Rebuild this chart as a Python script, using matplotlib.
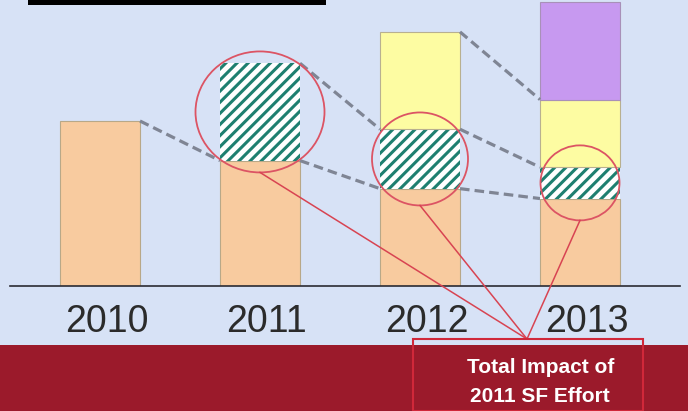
import matplotlib
matplotlib.use("Agg")
import matplotlib.pyplot as plt
from matplotlib.patches import Rectangle, Ellipse
from matplotlib.lines import Line2D
from matplotlib.transforms import ScaledTranslation

# ---- data ----
years = ["2010", "2011", "2012", "2013"]
base = [100, 76, 59, 53]          # existing baseline (peach)
sf2011 = [0, 59, 36, 19]          # 2011 SF effort (hatched)
sf2012 = [0, 0, 59, 41]           # 2012 effort (yellow)
sf2013 = [0, 0, 0, 59]            # 2013 effort (purple)
box_lines = ["Total Impact of", "2011 SF Effort"]

W, H = 688, 411
plt.rcParams["hatch.linewidth"] = 2.2
plt.rcParams["font.family"] = ["Liberation Sans", "DejaVu Sans"]

fig = plt.figure(figsize=(W / 100, H / 100), dpi=100)
fig.patch.set_facecolor("#d7e2f6")

# maroon band at bottom
fig.add_artist(Rectangle((0, 0), 1, 66 / H, transform=fig.transFigure,
                         facecolor="#9b1a2b", edgecolor="none", zorder=0))
# title underline (cut off title)
fig.add_artist(Line2D([30 / W, 323 / W], [1 - 2.5 / H] * 2, lw=3.6,
                      color="black", transform=fig.transFigure))

# main axes: bottom spine is the baseline
ax_left, ax_right, ax_bottom_px = 10, 680, 286
ax = fig.add_axes([ax_left / W, (H - ax_bottom_px) / H,
                   (ax_right - ax_left) / W, ax_bottom_px / H])
ax.set_facecolor("none")
px_per_x = 160.0
px_per_y = 1.65
x0_px = 100
ax.set_xlim((ax_left - x0_px) / px_per_x, (ax_right - x0_px) / px_per_x)
ax.set_ylim(0, ax_bottom_px / px_per_y)
for s in ["top", "left", "right"]:
    ax.spines[s].set_visible(False)
ax.spines["bottom"].set_color("#2b2b33")
ax.spines["bottom"].set_linewidth(1.2)
ax.set_yticks([])

x = list(range(len(years)))
ax.set_xticks(x, years)
ax.tick_params(axis="x", length=0, pad=13, labelsize=27, labelcolor="#2b2b2b")
for lab in ax.get_xticklabels():
    lab.set_transform(lab.get_transform() + ScaledTranslation(7 / 100, 0, fig.dpi_scale_trans))

bw = 0.5
series = [
    (base, dict(facecolor="#f8cb9f", edgecolor="#b8a888", linewidth=0.8)),
    (sf2011, dict(facecolor="white", edgecolor="#1e7f70", linewidth=0, hatch="///")),
    (sf2012, dict(facecolor="#fdfca2", edgecolor="#b8b090", linewidth=0.8)),
    (sf2013, dict(facecolor="#c799f0", edgecolor="#a890b8", linewidth=0.8)),
]
bottoms = [0] * len(years)
levels = []
for vals, style in series:
    idx = [i for i in x if vals[i] > 0]
    ax.bar([x[i] for i in idx], [vals[i] for i in idx],
           bottom=[bottoms[i] for i in idx], width=bw, zorder=2, **style)
    tops = [bottoms[i] + vals[i] for i in x]
    levels.append((vals, list(bottoms), tops))
    bottoms = tops

# dashed connectors between consecutive years
for vals, bots, tops in levels:
    for i in range(len(years) - 1):
        if vals[i] > 0 and vals[i + 1] > 0:
            ax.plot([x[i] + bw / 2, x[i + 1] - bw / 2], [tops[i], tops[i + 1]],
                    color="#7f8594", lw=2.3, dashes=(3, 1.6), zorder=3,
                    solid_capstyle="butt", dash_capstyle="butt")

# circles around hatched segments
circle_px = {1: (129, 121), 2: (96, 93), 3: (79, 75)}
vals, bots, tops = levels[1]
box_top = ((527 - x0_px) / px_per_x, (ax_bottom_px - 339) / px_per_y)
for i, (wpx, hpx) in circle_px.items():
    cy = bots[i] + vals[i] / 2
    ax.add_patch(Ellipse((x[i], cy), wpx / px_per_x, hpx / px_per_y,
                         facecolor="none", edgecolor="#dc5464", lw=1.3,
                         zorder=4, clip_on=False))
    ax.plot([x[i], box_top[0]], [cy - hpx / px_per_y / 2, box_top[1]],
            color="#d84452", lw=1.1, zorder=4, clip_on=False)

# callout box
fig.add_artist(Rectangle((413 / W, 0), 230 / W, (H - 339) / H,
                         transform=fig.transFigure, facecolor="none",
                         edgecolor="#d0283a", lw=1.5, zorder=5))
fig.text(541 / W, 1 - 367 / H, box_lines[0], color="white", fontsize=15,
         fontweight="bold", ha="center", va="center")
fig.text(540 / W, 1 - 396 / H, box_lines[1], color="white", fontsize=15,
         fontweight="bold", ha="center", va="center")

fig.savefig("out.png", dpi=100, facecolor=fig.get_facecolor())
